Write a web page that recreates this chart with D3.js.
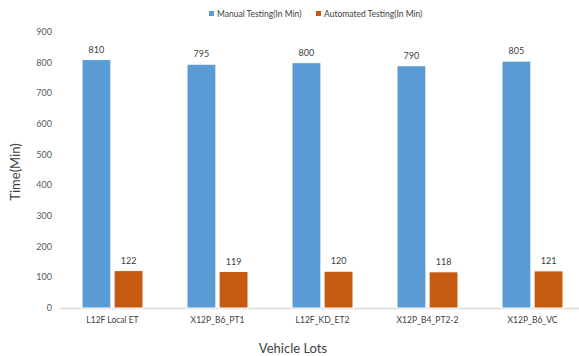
<!DOCTYPE html>
<html><head><meta charset="utf-8">
<script src="https://cdn.jsdelivr.net/npm/d3@7"></script>
<style>body{margin:0;background:#fff}svg{display:block;font-family:Lato,"Open Sans",sans-serif}</style>
</head><body>
<svg id="c" width="579" height="356"></svg>
<script>
const categories = ["L12F Local ET","X12P_B6_PT1","L12F_KD_ET2","X12P_B4_PT2-2","X12P_B6_VC"];
const manual = [810,795,800,790,805];
const automated = [122,119,120,118,121];
const seriesNames = ["Manual Testing(In Min)","Automated Testing(In Min)"];
const yTicks = [0,100,200,300,400,500,600,700,800,900];
const colors = ["#5B9BD5","#C55A11"];

const svg = d3.select("#c");
const x0 = d3.scaleBand().domain(categories).range([60,585]).paddingInner(0).paddingOuter(0);
const x1 = d3.scaleBand().domain([0,1]).range([22,83]).paddingInner(0.1);
const y = d3.scaleLinear().domain([0,900]).range([308,32]);

const data = categories.map((c,i)=>({c, v:[manual[i],automated[i]]}));

// y tick labels
svg.append("g").selectAll("text").data(yTicks).join("text")
  .attr("x",52).attr("y",d=>y(d)).attr("dy","0.35em")
  .attr("text-anchor","end").attr("font-size",9).attr("fill","#595959").text(d=>d);

// axis line
svg.append("line").attr("x1",60).attr("x2",579).attr("y1",y(0)+0.5).attr("y2",y(0)+0.5)
  .attr("stroke","#d9d9d9").attr("stroke-width",1.5);

const g = svg.append("g").selectAll("g").data(data).join("g")
  .attr("transform",d=>`translate(${x0(d.c)},0)`);
g.selectAll("rect").data(d=>d.v.map((v,k)=>({v,k}))).join("rect")
  .attr("x",d=>x1(d.k)).attr("width",x1.bandwidth())
  .attr("y",d=>y(d.v)).attr("height",d=>y(0)-y(d.v))
  .attr("fill",d=>colors[d.k]).attr("stroke","#fff").attr("stroke-width",1);
g.selectAll("text").data(d=>d.v.map((v,k)=>({v,k}))).join("text")
  .attr("x",d=>x1(d.k)+x1.bandwidth()/2).attr("y",d=>y(d.v)-7)
  .attr("text-anchor","middle").attr("font-size",9).attr("fill","#404040").text(d=>d.v);

// category labels
svg.append("g").selectAll("text").data(categories).join("text")
  .attr("x",d=>x0(d)+x0.bandwidth()/2).attr("y",323)
  .attr("text-anchor","middle").attr("font-size",8.5).attr("fill","#404040").text(d=>d);

// axis titles
svg.append("text").attr("x",293).attr("y",353).attr("text-anchor","middle")
  .attr("font-size",13).attr("fill","#404040").text("Vehicle Lots");
svg.append("text").attr("transform","translate(20,172) rotate(-90)").attr("text-anchor","middle")
  .attr("font-size",13).attr("fill","#404040").text("Time(Min)");

// legend
const legX = [209,316];
const lg = svg.append("g").selectAll("g").data(seriesNames).join("g")
  .attr("transform",(d,i)=>`translate(${legX[i]},14)`);
lg.append("rect").attr("x",0).attr("y",-3).attr("width",5).attr("height",5).attr("fill",(d,i)=>colors[i]);
lg.append("text").attr("x",8).attr("y",0).attr("dy","0.35em").attr("font-size",8.5).attr("fill","#404040").text(d=>d);
</script>
</body></html>
